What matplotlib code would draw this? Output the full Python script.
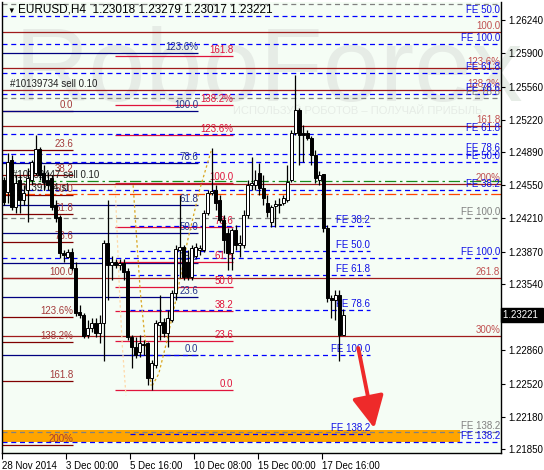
import matplotlib
matplotlib.use("Agg")
import matplotlib.pyplot as plt
import matplotlib.transforms as mtransforms

plt.rcParams['font.family'] = ['Liberation Sans', 'DejaVu Sans']
plt.rcParams['font.size'] = 7

# H4 candles, 28 Nov 2014 .. 17 Dec 2014
opens = [1.2460, 1.2448, 1.2481, 1.2433, 1.2460, 1.2440, 1.2450, 1.2460, 1.2468, 1.2492,
         1.2468, 1.2460, 1.2462, 1.2435, 1.2423, 1.2386, 1.2382, 1.2387, 1.2370, 1.2325,
         1.2322, 1.2302, 1.2309, 1.2314, 1.2304, 1.2314, 1.2396, 1.2373, 1.2376, 1.2373,
         1.2375, 1.2367, 1.2300, 1.2289, 1.2284, 1.2293, 1.2294, 1.2258, 1.2271, 1.2312,
         1.2315, 1.2304, 1.2317, 1.2345, 1.2389, 1.2392, 1.2376, 1.2361, 1.2383, 1.2389,
         1.2389, 1.2427, 1.2447, 1.2450, 1.2440, 1.2419, 1.2406, 1.2386, 1.2409, 1.2394,
         1.2394, 1.2425, 1.2455, 1.2455, 1.2468, 1.2452, 1.2437, 1.2417, 1.2434, 1.2435,
         1.2437, 1.2440, 1.2460, 1.2508, 1.2532, 1.2508, 1.2508, 1.2503, 1.2486, 1.2460,
         1.2466, 1.2411, 1.2340, 1.2338, 1.2343, 1.23018]
highs = [1.2463, 1.2488, 1.2486, 1.2465, 1.2465, 1.2455, 1.2473, 1.2481, 1.2506, 1.2494,
         1.2476, 1.2469, 1.2465, 1.2440, 1.2425, 1.2389, 1.2390, 1.2391, 1.2376, 1.2332,
         1.2324, 1.2317, 1.2319, 1.2319, 1.2322, 1.2399, 1.2440, 1.2383, 1.2380, 1.2380,
         1.2380, 1.2370, 1.2302, 1.2300, 1.2302, 1.2297, 1.2295, 1.2276, 1.2317, 1.2343,
         1.2319, 1.2327, 1.2348, 1.2394, 1.2445, 1.2394, 1.2389, 1.2394, 1.2396, 1.2394,
         1.2430, 1.2450, 1.2493, 1.2455, 1.2445, 1.2425, 1.2411, 1.2411, 1.2414, 1.2404,
         1.2430, 1.2460, 1.2484, 1.2471, 1.2478, 1.2465, 1.2445, 1.2435, 1.2440, 1.2442,
         1.2445, 1.2476, 1.2512, 1.2568, 1.2534, 1.2517, 1.2512, 1.2505, 1.2491, 1.2470,
         1.2467, 1.2414, 1.2343, 1.2348, 1.2348, 1.23279]
lows = [1.2435, 1.2437, 1.2430, 1.2427, 1.2427, 1.2435, 1.2417, 1.2455, 1.2465, 1.2460,
        1.2450, 1.2450, 1.2430, 1.2417, 1.2381, 1.2376, 1.2381, 1.2368, 1.2321, 1.2319,
        1.2299, 1.2299, 1.2305, 1.2300, 1.2294, 1.2275, 1.2338, 1.2358, 1.2370, 1.2368,
        1.2358, 1.2297, 1.2268, 1.2278, 1.2279, 1.2281, 1.2251, 1.2245, 1.2268, 1.2297,
        1.2300, 1.2289, 1.2315, 1.2338, 1.2360, 1.2358, 1.2358, 1.2358, 1.2381, 1.2384,
        1.2387, 1.2425, 1.2445, 1.2430, 1.2417, 1.2386, 1.2368, 1.2368, 1.2389, 1.2382,
        1.2391, 1.2421, 1.2450, 1.2450, 1.2445, 1.2435, 1.2423, 1.2412, 1.2412, 1.2427,
        1.2435, 1.2438, 1.2458, 1.2506, 1.2476, 1.2479, 1.2501, 1.2476, 1.2457, 1.2455,
        1.2407, 1.2336, 1.2319, 1.2317, 1.2275, 1.23017]
closes = [1.2438, 1.2479, 1.2433, 1.2457, 1.2440, 1.2447, 1.2462, 1.2479, 1.2492, 1.2465,
          1.2458, 1.2455, 1.2433, 1.2421, 1.2386, 1.2384, 1.2387, 1.2370, 1.2324, 1.2322,
          1.2301, 1.2309, 1.2314, 1.2304, 1.2314, 1.2396, 1.2373, 1.2376, 1.2373, 1.2375,
          1.2366, 1.2300, 1.2289, 1.2281, 1.2294, 1.2292, 1.2258, 1.2273, 1.2314, 1.2315,
          1.2304, 1.2319, 1.2345, 1.2390, 1.2392, 1.2361, 1.2361, 1.2391, 1.2392, 1.2391,
          1.2427, 1.2447, 1.2449, 1.2437, 1.2419, 1.2399, 1.2386, 1.2409, 1.2394, 1.2396,
          1.2425, 1.2455, 1.2457, 1.2460, 1.2452, 1.2442, 1.2428, 1.2433, 1.2436, 1.2436,
          1.2442, 1.2458, 1.2508, 1.2532, 1.2506, 1.2506, 1.2503, 1.2486, 1.2462, 1.2465,
          1.2411, 1.2340, 1.2338, 1.2343, 1.2302, 1.23221]

date_bars = [0, 16, 32, 48, 64, 80]
date_labels = ['28 Nov 2014', '3 Dec 00:00', '5 Dec 16:00', '10 Dec 08:00', '15 Dec 00:00', '17 Dec 16:00']
price_ticks = [1.26240, 1.25900, 1.25560, 1.25220, 1.24890, 1.24550, 1.24210,
               1.23870, 1.23540, 1.22860, 1.22520, 1.22180, 1.21850]
last_price = 1.23221

# fibo objects: labels and prices
fibA_labels = ['0.0', '23.6', '38.2', '50.0', '61.8', '78.6', '100.0', '123.6%', '138.2%', '161.8', '200%']
fibA_prices = [1.25309, 1.24910, 1.24654, 1.24455, 1.24255, 1.23969, 1.23600, 1.23201, 1.22945, 1.22546, 1.21891]
fibB_labels = ['0.0', '23.6', '38.2', '50.0', '61.8', '78.6', '100.0', '123.6%']
fibB_prices = [1.22812, 1.23406, 1.23759, 1.24061, 1.24352, 1.24777, 1.25309, 1.25903]
fibC_labels = ['0.0', '23.6', '38.2', '50.0', '61.8', '78.6', '100.0', '123.6%', '138.2%', '161.8']
fibC_prices = [1.22454, 1.22956, 1.23262, 1.23513, 1.23764, 1.24122, 1.24572, 1.25069, 1.25376, 1.25876]
fibD_labels = ['100.0', '123.6%', '138.2%', '161.8', '200%', '261.8', '300%']
fibD_prices = [1.26118, 1.25749, 1.25524, 1.25156, 1.24562, 1.23600, 1.23007]
feE_labels = ['FE 38.2', 'FE 50.0', 'FE 61.8', 'FE 78.6', 'FE 100.0']
feE_prices = [1.24501, 1.24787, 1.25074, 1.25483, 1.26000]
feE2_labels = ['FE 50.0', 'FE 61.8', 'FE 78.6', 'FE 100.0', 'FE 138.2']
feE2_prices = [1.26281, 1.25698, 1.24869, 1.23805, 1.21922]
feF_labels = ['FE 38.2', 'FE 50.0', 'FE 61.8', 'FE 78.6', 'FE 100.0', 'FE 138.2']
feF_prices = [1.24132, 1.23877, 1.23631, 1.23273, 1.22817, 1.22009]
feG_top = 1.26404  # its label sits above the chart top
feG_labels = ['FE 78.6', 'FE 100.0', 'FE 138.2']
feG_prices = [1.25442, 1.24214, 1.22024]

order_open = 1.24593
order_sl = 1.24460
band_low, band_high = 1.21922, 1.22045

arc1_x = [32.4, 33.2, 34.2, 35.4, 36.9]
arc1_y = [1.2455, 1.2405, 1.2345, 1.2297, 1.2250]
arc2_x = [37.2, 38.8, 40.8, 43.2, 46.0, 49.0, 51.9]
arc2_y = [1.2250, 1.2262, 1.2295, 1.2340, 1.2398, 1.2450, 1.2490]
arc3_x = [27.9, 28.4, 29.0, 29.7, 30.6]
arc3_y = [1.2455, 1.2405, 1.2345, 1.2290, 1.2240]

arrow_from = (88.7, 1.22884)
arrow_to = (92.7, 1.22065)

fig = plt.figure(figsize=(5.44, 4.70), dpi=100)
fig.patch.set_facecolor('white')
ax = fig.add_axes([2 / 544, 17 / 470, 499 / 544, 451 / 470])
ax.set_facecolor('#f5fdf5')
x_left, x_right = -0.325, 124.4
ax.set_xlim(x_left, x_right)
ax.set_ylim(1.2181, 1.26425)

# watermark
ax.text(0.535, 0.783, 'RoboForex', fontsize=74, color='#e6ece6', ha='center', va='baseline',
        transform=ax.transAxes, zorder=0.5)
ax.text(0.463, 0.752, 'ИСПОЛЬЗУЙ РОБОТОВ – ПОЛУЧАЙ ПРИБЫЛЬ', fontsize=8, color='#e6ece6',
        ha='left', va='baseline', transform=ax.transAxes, zorder=0.5)


def hline(price, x0, x1, color, ls='-', lw=0.9, z=2):
    ax.plot([x0, x1], [price, price], color=color, ls=ls, lw=lw, zorder=z, solid_capstyle='butt')


def label(x, price, text, color):
    ax.annotate(text, (x, price), xytext=(0, 0.6), textcoords='offset points',
                ha='right', va='bottom', color=color, fontsize=7, zorder=3)


right_lbl = 124.2
dash = (0, (4, 3))

# orange band
ax.fill_between([-0.3, 114.2], band_low, band_high, color='#ffa500', lw=0, zorder=1.5)

for t, p in zip(fibA_labels, fibA_prices):
    hline(p, -0.3, 17.4, '#800000')
    label(17.4, p, t, '#a33a3a')
for t, p in zip(fibB_labels, fibB_prices):
    hline(p, -0.3, 48.7, '#000080')
    label(48.7, p, t, '#26348a')
for t, p in zip(fibC_labels, fibC_prices):
    hline(p, 27.9, 57.4, '#e0143c')
    label(57.4, p, t, '#e0143c')
for t, p in zip(fibD_labels, fibD_prices):
    hline(p, x_left, x_right, '#a01c1c')
    label(right_lbl, p, t, '#c05050')
hline(feG_top, x_left, x_right, '#808080', ls=dash, z=2.2)
for t, p in zip(feG_labels, feG_prices):
    hline(p, x_left, x_right, '#808080', ls=dash, z=2.2)
    label(right_lbl, p, t, '#808080')
for t, p in zip(feE_labels, feE_prices):
    hline(p, x_left, x_right, '#0000ff', ls=dash, z=2.2)
    label(right_lbl, p, t, '#1010e6')
for t, p in zip(feE2_labels, feE2_prices):
    hline(p, x_left, x_right, '#0000ff', ls=dash, z=2.2)
    label(right_lbl, p, t, '#1010e6')
for t, p in zip(feF_labels, feF_prices):
    hline(p, 31.7, 91.7, '#0000ff', ls=dash, z=2.2)
    label(91.7, p, t, '#1010e6')

# order lines
hline(order_open, x_left, x_right, '#1a8a1a', ls=(0, (9, 3, 2, 3)), z=2.1)
hline(order_sl, x_left, x_right, '#ff4500', ls=(0, (9, 3, 2, 3)), z=2.1)
ax.text(1.7, 1.25585, '#10139734 sell 0.10', color='#202020', fontsize=7, va='center', zorder=3)
ax.text(2.2, 1.24654, '#10152447 sell 0.10', color='#202020', fontsize=7, va='center', zorder=3)
ax.text(1.7, 1.24521, '#10139734 sl', color='#202020', fontsize=7, va='center', zorder=3)

# fibo arcs
ax.plot(arc1_x, arc1_y, color='#daa520', ls=(0, (2, 2)), lw=0.9, zorder=2.3)
ax.plot(arc2_x, arc2_y, color='#daa520', ls=(0, (2, 2)), lw=0.9, zorder=2.3)
ax.plot(arc3_x, arc3_y, color='#ffd8a8', ls=(0, (2, 2)), lw=0.9, zorder=2.3)

# candles
for i, (o, h, l, c) in enumerate(zip(opens, highs, lows, closes)):
    ax.plot([i, i], [l, h], color='black', lw=0.9, zorder=4, solid_capstyle='butt')
    bottom = min(o, c)
    height = max(abs(c - o), 0.00003)
    fc = 'white' if c >= o else 'black'
    ax.bar(i, height, bottom=bottom, width=0.62, color=fc, edgecolor='black', lw=0.7, zorder=5)

# arrow
ax.annotate('', xy=arrow_to, xytext=arrow_from,
            arrowprops=dict(arrowstyle='-|>,head_length=1.4,head_width=0.7', color='#ee2a2a',
                            lw=2.8, mutation_scale=14, shrinkA=0, shrinkB=0), zorder=6)

# axes
ax.yaxis.tick_right()
ax.set_yticks(price_ticks)
ax.set_yticklabels([f'{p:.5f}' for p in price_ticks])
ax.tick_params(axis='y', direction='out', length=3, pad=2, labelsize=7, color='black')
ax.set_xticks([b - 0.4 for b in date_bars])
ax.set_xticklabels(date_labels, ha='left')
ax.tick_params(axis='x', direction='out', length=4, pad=2, labelsize=7)
ax.spines['top'].set_visible(False)
for s in ['left', 'right', 'bottom']:
    ax.spines[s].set_color('black')
    ax.spines[s].set_linewidth(1)

trans = mtransforms.blended_transform_factory(ax.transAxes, ax.transData)
ax.text(1.004, last_price, '1.23221 ', transform=trans, ha='left', va='center', color='white',
        fontsize=7, bbox=dict(boxstyle='square,pad=0.2', fc='black', ec='black'), clip_on=False)

fig.text(7 / 544, 1 - 11 / 470, '▼', fontsize=5.5, va='center', ha='left')
fig.text(18 / 544, 1 - 10 / 470, 'EURUSD,H4  1.23018 1.23279 1.23017 1.23221', fontsize=8.5,
         va='center', ha='left')

fig.savefig('out.png', dpi=100)
